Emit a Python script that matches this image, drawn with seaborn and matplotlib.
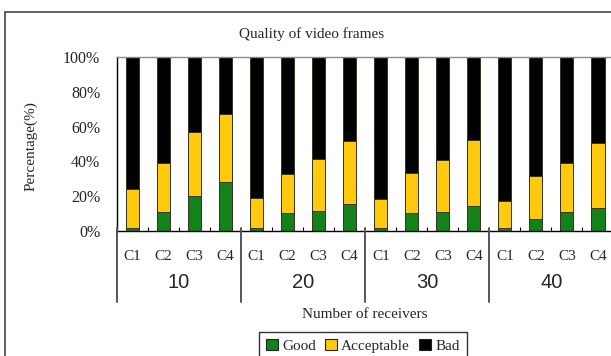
import numpy as np
import pandas as pd
import seaborn as sns
import matplotlib
matplotlib.use("Agg")
import matplotlib.pyplot as plt
from matplotlib.patches import Patch
from matplotlib.lines import Line2D
from matplotlib.transforms import blended_transform_factory

# Share of frames per quality class (%), for each receiver count and configuration
receivers = ["10", "20", "30", "40"]
configs = ["C1", "C2", "C3", "C4"]
good = [2, 11, 20, 28,
        1.5, 10.5, 11.5, 15.5,
        1.5, 10.5, 11, 14.5,
        1.5, 7, 11, 13.5]
acceptable = [22, 28, 37, 39,
              17.5, 22.5, 30, 36.5,
              17, 23, 30, 38,
              16, 24.5, 28, 37]
bad = [76, 61, 43, 33,
       81, 67, 58.5, 48,
       81.5, 66.5, 59, 47.5,
       82.5, 68.5, 61, 49.5]
y_ticks = [0, 20, 40, 60, 80, 100]

GREEN = "#13821a"
YELLOW = "#ffc90e"
BLACK = "#000000"
EDGE = "#3a3320"

sns.set_style("white")
plt.rcParams["font.family"] = ["Liberation Serif", "DejaVu Serif"]

slots = [f"{r}-{c}" for r in receivers for c in configs]
df = pd.DataFrame({
    "slot": slots,
    "good": good,
    "acceptable": acceptable,
    "bad": bad,
})
df["acc_top"] = df["good"] + df["acceptable"]
df["bad_top"] = df["acc_top"] + df["bad"]

W, H = 611, 356
fig = plt.figure(figsize=(W / 100, H / 100), dpi=100)
ax = fig.add_axes([117 / W, 1 - 231 / H, (613.5 - 117) / W, (231 - 57) / H])

bar_kw = dict(x="slot", order=slots, width=0.42, errorbar=None, ax=ax,
              edgecolor=EDGE, linewidth=0.7)
sns.barplot(data=df, y="bad_top", color=BLACK, saturation=1, **bar_kw)
sns.barplot(data=df, y="acc_top", color=YELLOW, saturation=1, **bar_kw)
sns.barplot(data=df, y="good", color=GREEN, saturation=1, **bar_kw)

ax.set_xlim(-0.5, len(slots) - 0.5)
ax.set_ylim(0, 100)
ax.set_xlabel("")
ax.set_ylabel("")

# y axis
ax.set_yticks(y_ticks)
ax.set_yticklabels([f"{v}%" for v in y_ticks], fontsize=11.5)
ax.tick_params(axis="y", direction="out", length=3, width=0.8, color="black", pad=9)

# category axis: small inward marks between configurations
ax.set_xticks([])
minor = [i + 0.5 for i in range(len(slots) - 1) if (i + 1) % len(configs) != 0]
ax.set_xticks(minor, minor=True)
ax.tick_params(axis="x", which="minor", direction="in", length=3, width=0.8,
               color="black", bottom=True)

for side in ["top", "right"]:
    ax.spines[side].set_color("#8a8a8a")
    ax.spines[side].set_linewidth(1.0)
for side in ["left", "bottom"]:
    ax.spines[side].set_color("black")
    ax.spines[side].set_linewidth(1.0)

# two-level category labels
tr = blended_transform_factory(ax.transData, fig.transFigure)
for i, s in enumerate(slots):
    ax.text(i, 1 - 257 / H, s.split("-")[1], transform=tr, ha="center",
            va="center", fontsize=11)
n = len(configs)
for g, r in enumerate(receivers):
    ax.text(g * n + (n - 1) / 2, 1 - 283 / H, r, transform=tr, ha="center",
            va="center", fontsize=14.5, family=["Liberation Sans", "DejaVu Sans"])
for g in range(len(receivers) + 1):
    xb = g * n - 0.5
    fig.add_artist(Line2D([xb, xb], [1 - 228 / H, 1 - 302 / H], transform=tr,
                          color="#555555", linewidth=1.4, clip_on=False))

fig.text(312 / W, 1 - 34 / H, "Quality of video frames", ha="center",
         va="center", fontsize=11)
fig.text(31 / W, 1 - 146 / H, "Percentage(%)", ha="center", va="center",
         rotation=90, fontsize=11)
fig.text(365 / W, 1 - 315 / H, "Number of receivers", ha="center",
         va="center", fontsize=11)

handles = [Patch(facecolor=GREEN, edgecolor="#222222", linewidth=0.8),
           Patch(facecolor=YELLOW, edgecolor="#222222", linewidth=0.8),
           Patch(facecolor=BLACK, edgecolor="#222222", linewidth=0.8)]
leg = fig.legend(handles, ["Good", "Acceptable", "Bad"], ncol=3,
                 loc="upper center", bbox_to_anchor=(363 / W, 1 - 332 / H),
                 fontsize=11, frameon=True, fancybox=False, handlelength=0.75,
                 handleheight=0.75, handletextpad=0.3, columnspacing=0.6,
                 borderpad=0.45, borderaxespad=0)
leg.get_frame().set_edgecolor("black")
leg.get_frame().set_linewidth(1.0)

# chart area border
fig.add_artist(Line2D([5 / W, 5 / W], [1 - 12 / H, -0.05], transform=fig.transFigure,
                      color="#555555", linewidth=1.3))
fig.add_artist(Line2D([5 / W, 1.05], [1 - 12 / H, 1 - 12 / H], transform=fig.transFigure,
                      color="#555555", linewidth=1.3))

fig.savefig("out.png", dpi=100)
